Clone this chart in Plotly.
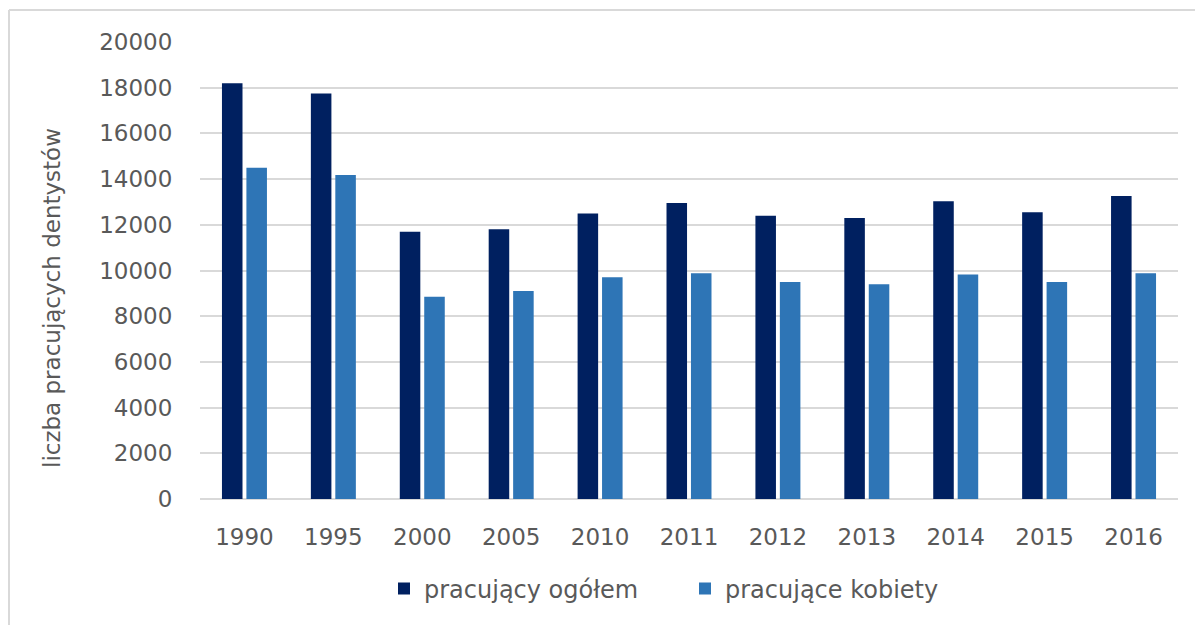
import plotly.graph_objects as go

years = ["1990", "1995", "2000", "2005", "2010", "2011", "2012", "2013", "2014", "2015", "2016"]
ogolem = [18200, 17750, 11700, 11800, 12500, 12950, 12400, 12300, 13030, 12550, 13260]
kobiety = [14500, 14180, 8850, 9100, 9700, 9880, 9500, 9400, 9820, 9500, 9880]
y_ticks = [0, 2000, 4000, 6000, 8000, 10000, 12000, 14000, 16000, 18000, 20000]

OFF = 8  # default page body margin
W, H = 1203 - OFF, 625 - OFF
ML, MR, MT, MB = 200 - OFF, 25, 42 - OFF, 126
PW, PH = W - ML - MR, H - MT - MB

FONT = "DejaVu Sans"
GRAY = "#595959"

fig = go.Figure()
fig.add_trace(go.Bar(x=years, y=ogolem, name="pracujący ogółem", marker_color="#002060",
                     marker_line_width=0))
fig.add_trace(go.Bar(x=years, y=kobiety, name="pracujące kobiety", marker_color="#2E75B6",
                     marker_line_width=0))

def px_x(p):  # screen pixel -> paper x
    return (p - OFF - ML) / PW

def px_y(p):  # screen pixel -> paper y
    return (H - MB - (p - OFF)) / PH

fig.update_layout(
    width=W, height=H,
    margin=dict(l=ML, r=MR, t=MT, b=MB, autoexpand=False),
    paper_bgcolor="white", plot_bgcolor="white",
    barmode="group", bargap=0.45, bargroupgap=0.16,
    font=dict(family=FONT, color=GRAY, size=22),
    showlegend=True,
    legend=dict(orientation="h", x=px_x(384), xanchor="left", y=px_y(589), yanchor="middle",
                font=dict(family=FONT, size=24, color=GRAY), entrywidth=256,
                bgcolor="rgba(0,0,0,0)", traceorder="normal"),
    xaxis=dict(type="category", showgrid=False, showline=False, zeroline=False,
               ticks="outside", ticklen=17, tickcolor="rgba(0,0,0,0)",
               tickfont=dict(family=FONT, size=23, color=GRAY)),
    yaxis=dict(range=[0, 20000], tickvals=y_ticks, ticktext=[str(v) for v in y_ticks],
               showgrid=True, gridcolor="#D9D9D9", gridwidth=1.5, zeroline=True,
               zerolinecolor="#D9D9D9", zerolinewidth=1.5, showline=False,
               ticks="outside", ticklen=22, tickcolor="rgba(0,0,0,0)",
               tickfont=dict(family=FONT, size=23, color=GRAY)),
    annotations=[dict(text="liczba pracujących dentystów", textangle=-90,
                      xref="paper", yref="paper", x=px_x(52), y=px_y(298),
                      xanchor="center", yanchor="middle", showarrow=False,
                      font=dict(family=FONT, size=23, color=GRAY))],
    shapes=[
        dict(type="line", xref="paper", yref="paper", x0=px_x(9), x1=px_x(1203),
             y0=px_y(10), y1=px_y(10), line=dict(color="#D9D9D9", width=2)),
        dict(type="line", xref="paper", yref="paper", x0=px_x(9), x1=px_x(9),
             y0=px_y(10), y1=px_y(625), line=dict(color="#D9D9D9", width=2)),
    ],
)

fig.write_html("out.html")
